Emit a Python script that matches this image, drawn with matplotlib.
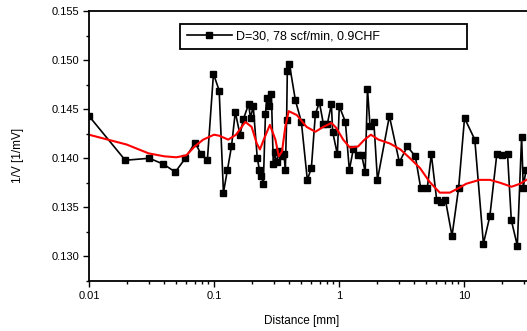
import matplotlib
matplotlib.use("Agg")
from matplotlib import pyplot as plt
from matplotlib.ticker import FixedLocator, MultipleLocator, LogLocator, NullFormatter

plt.rcParams['font.family'] = ['Liberation Sans', 'DejaVu Sans']

# measured points
dist = [0.01, 0.0195, 0.0304, 0.0394, 0.049, 0.059, 0.0705, 0.079, 0.0885, 0.099,
        0.110, 0.119, 0.128, 0.138, 0.148, 0.1615, 0.172, 0.189, 0.196, 0.206,
        0.222, 0.231, 0.239, 0.248, 0.258, 0.264, 0.277, 0.288, 0.298, 0.306,
        0.317, 0.333, 0.350, 0.363, 0.372, 0.381, 0.386, 0.401, 0.448, 0.500,
        0.558, 0.601, 0.647, 0.697, 0.750, 0.807, 0.869, 0.890, 0.970, 1.006,
        1.125, 1.21, 1.30, 1.41, 1.52, 1.62, 1.69, 1.77, 1.90, 2.03,
        2.53, 3.04, 3.52, 4.08, 4.50, 5.09, 5.48, 6.04, 6.50, 7.09,
        8.02, 9.06, 10.1, 12.2, 14.3, 16.1, 18.3, 20.0, 22.3, 23.9,
        26.7, 28.9, 29.8, 31.3]
inv_v = [0.1443, 0.1398, 0.1400, 0.1394, 0.1386, 0.1400, 0.1416, 0.1404, 0.1398, 0.1486,
         0.1469, 0.1365, 0.1388, 0.1412, 0.1447, 0.1424, 0.1440, 0.1455, 0.1441, 0.1453,
         0.1400, 0.1388, 0.1382, 0.1374, 0.1445, 0.1461, 0.1453, 0.1465, 0.1394, 0.1406,
         0.1396, 0.1407, 0.1402, 0.1404, 0.1388, 0.1439, 0.1489, 0.1496, 0.1459, 0.1437,
         0.1378, 0.1390, 0.1445, 0.1457, 0.1435, 0.1435, 0.1455, 0.1427, 0.1404, 0.1453,
         0.1437, 0.1388, 0.1409, 0.1403, 0.1403, 0.1386, 0.1471, 0.1433, 0.1437, 0.1378,
         0.1443, 0.1396, 0.1412, 0.1402, 0.1370, 0.1370, 0.1404, 0.1358, 0.1355, 0.1358,
         0.1321, 0.1370, 0.1441, 0.1419, 0.1313, 0.1341, 0.1404, 0.1403, 0.1404, 0.1337,
         0.1311, 0.1422, 0.1370, 0.1388]

# smoothed curve
smooth_x = [0.01, 0.02, 0.03, 0.04, 0.05, 0.06, 0.07, 0.082, 0.1, 0.11,
            0.13, 0.15, 0.178, 0.2, 0.22, 0.233, 0.25, 0.28, 0.31, 0.33,
            0.35, 0.372, 0.396, 0.46, 0.55, 0.647, 0.75, 0.87, 0.95, 1.08,
            1.22, 1.42, 1.6, 1.8, 2.07, 2.56, 3.1, 3.7, 4.45, 5.3,
            6.4, 7.7, 9.2, 10.4, 13.3, 16.1, 19.5, 24, 28, 31.6]
smooth_y = [0.1424, 0.1414, 0.1405, 0.1402, 0.1401, 0.1403, 0.1412, 0.1419, 0.1424, 0.1423,
            0.1419, 0.1424, 0.1437, 0.1432, 0.1415, 0.1409, 0.1419, 0.1434, 0.1419, 0.1402,
            0.1407, 0.1432, 0.1448, 0.1444, 0.1432, 0.1427, 0.1432, 0.1436, 0.1431, 0.1419,
            0.1411, 0.1412, 0.1419, 0.1424, 0.1419, 0.1415, 0.1409, 0.1400, 0.1390, 0.1376,
            0.1365, 0.1365, 0.1370, 0.1374, 0.1378, 0.1378, 0.1375, 0.1371, 0.1374, 0.1378]

xticks = [0.01, 0.1, 1, 10]
xtick_labels = ["0.01", "0.1", "1", "10"]

W, H = 527, 331
fig = plt.figure(figsize=(W / 100, H / 100), dpi=100)
# axes runs past the right edge of the picture (cropped original)
left, right, top, bottom = 89, 589, 11, 281
ax = fig.add_axes([left / W, 1 - bottom / H, (right - left) / W, (bottom - top) / H])

ax.plot(dist, inv_v, color="black", lw=1.2, marker="s", ms=5, mfc="black", mec="black",
        label="D=30, 78 scf/min, 0.9CHF")
ax.plot(smooth_x, smooth_y, color="red", lw=1.5)

ax.set_xscale("log")
ax.set_xlim(0.01, 100)
ax.set_ylim(0.1275, 0.155)

ax.xaxis.set_major_locator(FixedLocator(xticks))
ax.set_xticklabels(xtick_labels)
ax.xaxis.set_minor_locator(LogLocator(base=10, subs=range(2, 10)))
ax.xaxis.set_minor_formatter(NullFormatter())
ax.yaxis.set_major_locator(MultipleLocator(0.005))
ax.yaxis.set_minor_locator(MultipleLocator(0.0025))
ax.yaxis.set_major_formatter(plt.FormatStrFormatter("%.3f"))

ax.tick_params(which="major", direction="out", length=4, width=1, labelsize=8, pad=3)
ax.tick_params(which="minor", direction="out", length=2.5, width=1)
ax.tick_params(top=False, right=False)
for s in ["left", "bottom", "top"]:
    ax.spines[s].set_linewidth(1.3)
ax.spines["right"].set_visible(False)

ax.set_xlabel("Distance [mm]", fontsize=8.5)
ax.set_ylabel("1/V [1/mV]", fontsize=8.5)
ax.xaxis.set_label_coords((302 - left) / (right - left), -0.125)
ax.yaxis.set_label_coords(-0.13, (bottom - 155) / (bottom - top))

leg = ax.legend(loc="center", bbox_to_anchor=(174 / W, 1 - 52 / H, (473 - 174) / W, 31 / H),
                bbox_transform=fig.transFigure, mode="expand", fancybox=False,
                edgecolor="black", framealpha=1, handlelength=3.6, numpoints=1,
                borderpad=0.5, fontsize=9, handletextpad=0.4)
leg.get_frame().set_linewidth(1.3)

fig.savefig("out.png", dpi=100)
